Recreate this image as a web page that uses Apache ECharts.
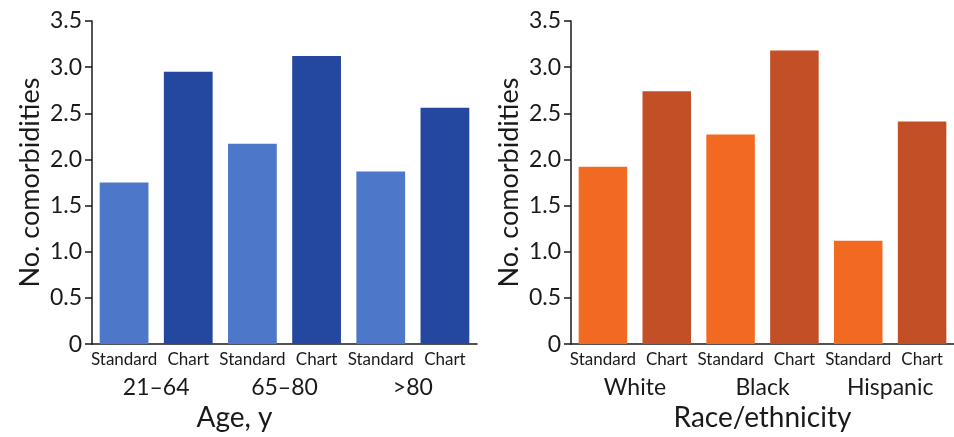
<!DOCTYPE html>
<html>
<head>
<meta charset="utf-8">
<script src="https://cdn.jsdelivr.net/npm/echarts@6/dist/echarts.min.js"></script>
<style>
  html, body { margin: 0; padding: 0; background: #ffffff; }
  #chart { width: 954px; height: 437px; }
</style>
</head>
<body>
<div id="chart"></div>
<script>
// Mean number of comorbidities, standard record review vs. chart review
const methods = ['Standard', 'Chart'];

const ageGroups = ['21–64', '65–80', '>80'];
const ageStandard = [1.75, 2.17, 1.87];
const ageChart = [2.95, 3.12, 2.56];

const raceGroups = ['White', 'Black', 'Hispanic'];
const raceStandard = [1.92, 2.27, 1.12];
const raceChart = [2.74, 3.18, 2.41];

const yMin = 0, yMax = 3.5, yStep = 0.5;

const FONT = 'Lato, "Open Sans", sans-serif';
const INK = '#1a1a1a';

// Interleave Standard/Chart bars for each group
function pairs(groups, standard, chart, colors) {
  const cats = [], data = [];
  groups.forEach((g, i) => {
    cats.push(methods[0] + '|' + g);
    data.push({ value: standard[i], itemStyle: { color: colors[0] } });
    cats.push(methods[1] + '|' + g);
    data.push({ value: chart[i], itemStyle: { color: colors[1] } });
  });
  return { cats, data };
}

const age = pairs(ageGroups, ageStandard, ageChart, ['#4d78c9', '#2447a0']);
const race = pairs(raceGroups, raceStandard, raceChart, ['#f26a22', '#c24f26']);

function yAxis(gridIndex) {
  return {
    type: 'value', gridIndex, min: yMin, max: yMax, interval: yStep,
    name: 'No. comorbidities', nameLocation: 'middle', nameGap: 48,
    nameTextStyle: { fontFamily: FONT, fontSize: 27, color: INK },
    axisLine: { show: true, lineStyle: { color: INK, width: 1.5 } },
    axisTick: { show: true, length: 7, lineStyle: { color: INK, width: 1.5 } },
    splitLine: { show: false },
    axisLabel: {
      fontFamily: FONT, fontSize: 23, color: INK, margin: 10,
      formatter: v => (v === 0 ? '0' : v.toFixed(1))
    }
  };
}

function methodAxis(gridIndex, cats) {
  return {
    type: 'category', gridIndex, data: cats, position: 'bottom',
    axisLine: { show: true, lineStyle: { color: INK, width: 1.5 } },
    axisTick: { show: false },
    axisLabel: {
      interval: 0, fontFamily: FONT, fontSize: 17, color: INK, margin: 7,
      formatter: v => v.split('|')[0]
    }
  };
}

function groupAxis(gridIndex, groups, name, namePad) {
  return {
    type: 'category', gridIndex, data: groups, position: 'bottom',
    axisLine: { show: false }, axisTick: { show: false },
    axisLabel: { interval: 0, fontFamily: FONT, fontSize: 23, color: INK, margin: 32 },
    name, nameLocation: 'middle', nameGap: 58,
    nameTextStyle: { fontFamily: FONT, fontSize: 28, color: INK, padding: namePad }
  };
}

const chart = echarts.init(document.getElementById('chart'), null, { renderer: 'canvas' });
chart.setOption({
  backgroundColor: '#ffffff',
  animation: false,
  grid: [
    { left: 92, top: 21, width: 385, height: 329 },
    { left: 571, top: 21, width: 387, height: 329 }
  ],
  xAxis: [
    methodAxis(0, age.cats),
    groupAxis(0, ageGroups, 'Age, y', [0, 100, 0, 0]),
    methodAxis(1, race.cats),
    groupAxis(1, raceGroups, 'Race/ethnicity', [0, 0, 0, 0])
  ],
  yAxis: [yAxis(0), yAxis(1)],
  series: [
    { type: 'bar', xAxisIndex: 0, yAxisIndex: 0, data: age.data, barWidth: '76%' },
    { type: 'bar', xAxisIndex: 2, yAxisIndex: 1, data: race.data, barWidth: '76%' }
  ]
});
</script>
</body>
</html>
